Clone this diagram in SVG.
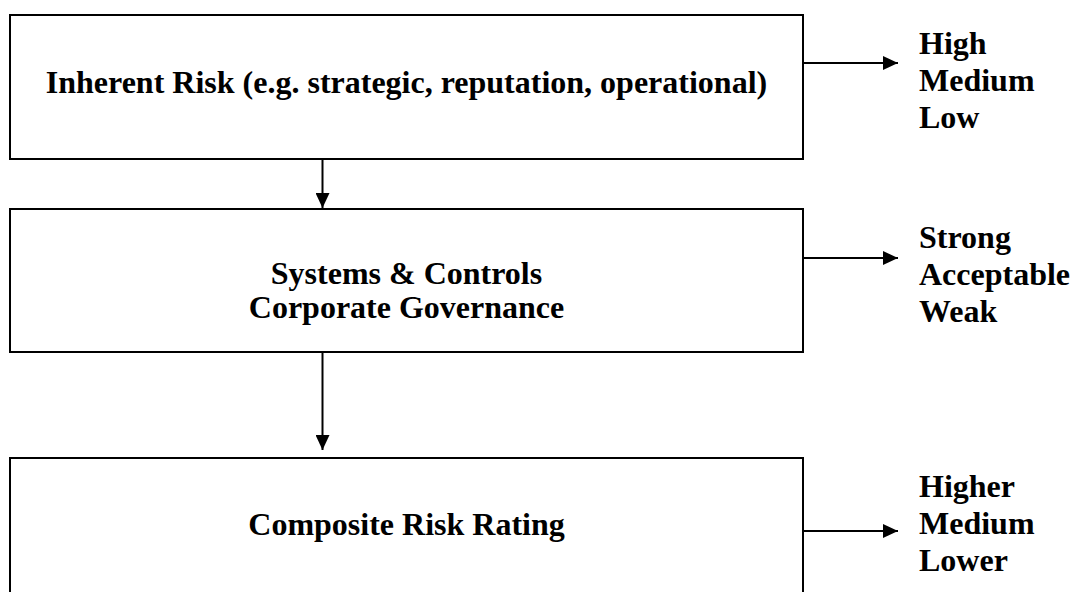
<svg xmlns="http://www.w3.org/2000/svg" width="1073" height="592" viewBox="0 0 1073 592">
<style>
.box{fill:#fff;stroke:#000;stroke-width:2}
.t{font-family:"Liberation Serif","Times New Roman",serif;font-weight:bold;font-size:32px;fill:#000}
.c{text-anchor:middle}
.ln{stroke:#000;stroke-width:2;fill:none}
</style>
<defs>
<marker id="ah" markerWidth="15" markerHeight="14" refX="15" refY="7" orient="auto" markerUnits="userSpaceOnUse">
<path d="M0,0 L15,7 L0,14 Z" fill="#000"/>
</marker>
</defs>
<rect width="1073" height="592" fill="#fff"/>
<g id="node-inherent">
<rect class="box" x="10" y="15" width="793" height="144"/>
<text class="t c" x="406.5" y="93">Inherent Risk (e.g. strategic, reputation, operational)</text>
</g>
<g id="node-systems">
<rect class="box" x="10" y="209" width="793" height="143"/>
<text class="t c" x="406.5" y="284">Systems &amp; Controls</text>
<text class="t c" x="406.5" y="318">Corporate Governance</text>
</g>
<g id="node-composite">
<rect class="box" x="10" y="458" width="793" height="150"/>
<text class="t c" x="406.5" y="535">Composite Risk Rating</text>
</g>
<g id="label-inherent">
<text class="t" x="919" y="54">High</text>
<text class="t" x="919" y="91">Medium</text>
<text class="t" x="919" y="128">Low</text>
</g>
<g id="label-systems">
<text class="t" x="919" y="248">Strong</text>
<text class="t" x="919" y="285">Acceptable</text>
<text class="t" x="919" y="322">Weak</text>
</g>
<g id="label-composite">
<text class="t" x="919" y="497">Higher</text>
<text class="t" x="919" y="534">Medium</text>
<text class="t" x="919" y="571">Lower</text>
</g>
<g id="connectors">
<line class="ln" x1="322.5" y1="159" x2="322.5" y2="208" marker-end="url(#ah)"/>
<line class="ln" x1="322.5" y1="352" x2="322.5" y2="450" marker-end="url(#ah)"/>
<line class="ln" x1="803" y1="63" x2="898" y2="63" marker-end="url(#ah)"/>
<line class="ln" x1="803" y1="258" x2="898" y2="258" marker-end="url(#ah)"/>
<line class="ln" x1="803" y1="531" x2="898" y2="531" marker-end="url(#ah)"/>
</g>
</svg>
